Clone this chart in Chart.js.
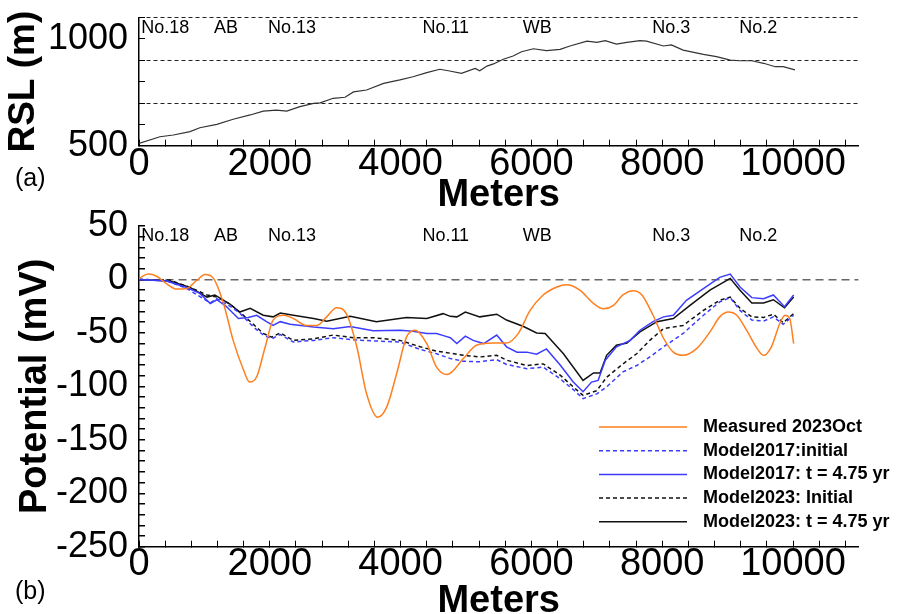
<!DOCTYPE html>
<html>
<head>
<meta charset="utf-8">
<script src="https://cdn.jsdelivr.net/npm/chart.js@4/dist/chart.umd.min.js"></script>
<style>
  body { margin: 0; background: #fff; }
  #wrap { position: relative; width: 906px; height: 614px; font-family: "Liberation Sans", Arial, sans-serif; }
  .layer { position: absolute; left: 0; top: 0; width: 906px; height: 614px; }
  .tag { position: absolute; left: 15px; font-size: 25px; line-height: 25px; color: #000; }
</style>
</head>
<body>
<div id="wrap">
  <div class="layer"><canvas id="rslChart"></canvas></div>
  <div class="layer"><canvas id="potChart"></canvas></div>
  <div class="tag" style="top:165px">(a)</div>
  <div class="tag" style="top:578px">(b)</div>
</div>
<script>
// station labels along the line (meters)
const stations = ['No.18', 'AB', 'No.13', 'No.11', 'WB', 'No.3', 'No.2'];
const stationPos = [400, 1330, 2340, 4690, 6090, 8140, 9470];

// (a) RSL profile
const rslDist = [0, 320, 525, 780, 930, 1190, 1440, 1700, 1900, 2100, 2260, 2460, 2670, 2770, 2970, 3150, 3280, 3480, 3740, 3990, 4190, 4400, 4600, 4750, 4930, 5140, 5210, 5320, 5420, 5570, 5720, 5850, 6030, 6230, 6440, 6590, 6850, 7000, 7130, 7300, 7460, 7660, 7760, 8020, 8140, 8320, 8630, 8830, 9040, 9190, 9370, 9550, 9730, 9850, 10030];
const rslVal = [511, 542, 550, 566, 584, 600, 624, 644, 662, 667, 662, 683, 698, 701, 722, 727, 752, 761, 792, 808, 823, 842, 858, 850, 839, 862, 851, 873, 883, 905, 920, 940, 954, 945, 951, 967, 990, 984, 992, 976, 984, 992, 990, 967, 972, 948, 928, 917, 901, 898, 898, 886, 870, 870, 855];

// (b) potentials
const measuredDist = [0, 140, 270, 420, 580, 730, 880, 1010, 1140, 1290, 1440, 1600, 1690, 1800, 1930, 2050, 2210, 2360, 2560, 2720, 2870, 3020, 3170, 3330, 3480, 3650, 3790, 3940, 4090, 4220, 4400, 4550, 4710, 4960, 5160, 5420, 5620, 5800, 5980, 6180, 6390, 6540, 6740, 6950, 7100, 7250, 7400, 7560, 7690, 7860, 8020, 8170, 8320, 8530, 8730, 8880, 9010, 9140, 9290, 9450, 9550, 9670, 9800, 9880, 9950, 10010];
const measuredVal = [1, 5, 3, -4, -9, -8.5, -1, 4.7, 1, -22, -57, -85, -96, -91, -63, -38, -33.5, -36.5, -43, -43, -35, -26.5, -32, -63, -107, -129, -119, -88, -54, -47.5, -60, -82, -89, -74, -61.5, -59.5, -59.5, -50.5, -29, -14.5, -7, -5, -10, -22.5, -27.5, -24.5, -14.5, -10.5, -14.5, -33.5, -55, -68, -71, -64.5, -49, -35, -30.5, -33.5, -47.5, -64.5, -71, -63, -41, -33.5, -36.5, -60];

const m17iDist = [0, 420, 730, 1090, 1190, 1390, 1540, 1750, 1900, 2030, 2160, 2360, 2670, 2970, 3280, 3580, 3990, 4300, 4550, 4760, 4960, 5210, 5470, 5620, 5930, 6180, 6440, 6640, 6790, 7000, 7150, 7400, 7610, 7810, 8020, 8320, 8630, 8880, 9040, 9190, 9370, 9550, 9700, 9850, 10010];
const m17iVal = [0, -1, -8.5, -22, -18, -25, -31.5, -44.5, -52, -55.5, -51.5, -58.5, -57, -54.5, -56.5, -57.5, -58.5, -65.5, -69.5, -74, -76.5, -77, -75, -79.5, -83.5, -82, -93, -103, -111.5, -107, -100.5, -86.5, -80.5, -72.5, -63, -50.5, -33.5, -21, -17, -29, -38, -39, -35, -42, -33.5];

const m17tDist = [0, 420, 730, 930, 1090, 1190, 1340, 1520, 1670, 1800, 1950, 2050, 2160, 2310, 2670, 2970, 3230, 3580, 3990, 4190, 4400, 4550, 4680, 4760, 4860, 4990, 5110, 5270, 5470, 5620, 5780, 5930, 6080, 6230, 6440, 6640, 6790, 6920, 7020, 7130, 7300, 7510, 7660, 7860, 8020, 8170, 8370, 8630, 8880, 9040, 9190, 9370, 9550, 9700, 9870, 10010];
const m17tVal = [0, -1.5, -7.5, -13, -22.5, -19, -25.5, -36.5, -35.5, -33.5, -39.5, -43, -39.5, -42, -44.5, -46, -44, -48, -47.5, -48.5, -50.5, -50.5, -53, -54.5, -60, -53, -57, -60, -52, -63, -68, -68, -70, -65, -80, -96, -105, -96, -94.5, -75.5, -63, -57, -47.5, -39.5, -35, -33.5, -19.5, -8.5, 2, 5, -7, -17, -18, -14.5, -25.5, -14.5];

const m23iDist = [0, 470, 780, 1040, 1190, 1390, 1540, 1750, 1900, 2030, 2160, 2360, 2670, 2970, 3280, 3580, 3990, 4300, 4550, 4760, 4960, 5210, 5470, 5620, 5930, 6180, 6440, 6640, 6790, 7000, 7150, 7400, 7610, 7810, 8020, 8320, 8630, 8880, 9040, 9190, 9370, 9550, 9700, 9850, 10010];
const m23iVal = [0, -0.5, -7.5, -14.5, -16.5, -23, -30.5, -42, -50.5, -54, -50, -57, -55.5, -52, -54.5, -54.5, -57, -63, -67, -69, -71, -72.5, -71, -75.5, -80.5, -79, -89.5, -100.5, -108.5, -104, -91.5, -79, -69.5, -57, -46, -43, -29, -19.5, -16.5, -27, -35, -35.5, -32.5, -40.5, -32];

const m23tDist = [0, 470, 780, 1040, 1160, 1390, 1540, 1700, 1900, 2050, 2160, 2360, 2670, 2870, 3230, 3630, 4090, 4400, 4650, 4760, 4860, 4990, 5210, 5470, 5620, 5880, 6080, 6210, 6490, 6790, 6950, 7050, 7150, 7300, 7460, 7660, 7920, 8170, 8430, 8730, 9040, 9190, 9370, 9550, 9700, 9870, 10010];
const m23tVal = [0, -1.5, -7.5, -16.5, -14.5, -23, -30.5, -27, -33.5, -35, -31.5, -33.5, -36.5, -39, -34.5, -39.5, -35.5, -36.5, -32, -34.5, -35, -30.5, -35, -32.5, -38, -44, -50, -50.5, -69.5, -94.5, -87.5, -87.5, -71, -61.5, -59.5, -49, -39.5, -36.5, -24, -10, 1, -10, -22, -22, -19, -26.5, -16.5];

const toXY = (xs, ys) => xs.map((x, i) => ({ x: x, y: ys[i] }));

Chart.defaults.font.family = '"Liberation Sans", Arial, sans-serif';
Chart.defaults.color = '#000';

// station names near the top of each panel
const stationPlugin = {
  id: 'stations',
  afterDatasetsDraw(chart) {
    const { ctx, chartArea, scales } = chart;
    ctx.save();
    ctx.font = '18px "Liberation Sans", Arial, sans-serif';
    ctx.fillStyle = '#000';
    ctx.textAlign = 'center';
    ctx.textBaseline = 'middle';
    stations.forEach((s, i) => {
      ctx.fillText(s, scales.x.getPixelForValue(stationPos[i]), chartArea.top + 10);
    });
    ctx.restore();
  }
};

// legend inside the lower right of panel (b)
const lineLegend = {
  id: 'lineLegend',
  afterDraw(chart) {
    const { ctx, chartArea } = chart;
    ctx.save();
    ctx.font = 'bold 18px "Liberation Sans", Arial, sans-serif';
    ctx.textBaseline = 'middle';
    chart.data.datasets.forEach((ds, i) => {
      const y = chartArea.top + 201 + i * 23.7;
      ctx.beginPath();
      ctx.setLineDash(ds.borderDash || []);
      ctx.strokeStyle = ds.borderColor;
      ctx.lineWidth = ds.borderWidth;
      ctx.moveTo(599, y);
      ctx.lineTo(687, y);
      ctx.stroke();
      ctx.fillStyle = '#000';
      ctx.fillText(ds.label, 703, y);
    });
    ctx.restore();
  }
};

function xAxis(height, pad, titleLh) {
  return {
    type: 'linear', min: 0, max: 11000,
    afterFit: s => { s.height = height; },
    border: { color: '#000', width: 1.5 },
    grid: { drawOnChartArea: false, tickLength: -6, tickColor: '#000', tickWidth: 1 },
    ticks: {
      stepSize: 400, autoSkip: false, includeBounds: false, minRotation: 0, maxRotation: 0,
      padding: pad, font: { size: 38, lineHeight: 1 },
      callback: v => (v % 2000 === 0 ? String(v) : '')
    },
    title: { display: true, text: 'Meters', font: { size: 38, weight: 'bold', lineHeight: titleLh }, padding: 0 }
  };
}

new Chart(document.getElementById('rslChart'), {
  type: 'line',
  data: {
    datasets: [{
      label: 'RSL',
      data: toXY(rslDist, rslVal),
      borderColor: '#333',
      borderWidth: 1.2,
      pointRadius: 0,
      tension: 0
    }]
  },
  options: {
    responsive: true,
    maintainAspectRatio: false,
    animation: false,
    layout: { padding: { top: 17.6, left: 0, right: 47.6, bottom: 403 } },
    plugins: { legend: { display: false }, tooltip: { enabled: false } },
    scales: {
      x: xAxis(65.3, 6, 0.8),
      y: {
        min: 500, max: 1100,
        afterFit: s => { s.width = 139; },
        border: { color: '#000', width: 1.5, dash: [4, 3] },
        grid: {
          color: c => ([700, 900, 1100].includes(c.tick.value) ? '#222' : 'rgba(0,0,0,0)'),
          lineWidth: 1, tickLength: -6, tickColor: '#000'
        },
        ticks: {
          stepSize: 100, autoSkip: false, padding: 17, font: { size: 36, lineHeight: 0.02 },
          callback: v => (v === 500 || v === 1000 ? String(v) : '')
        },
        title: { display: true, text: 'RSL (m)', font: { size: 37, weight: 'bold', lineHeight: 1 }, padding: { top: 5, bottom: 0 } }
      }
    }
  },
  plugins: [stationPlugin]
});

new Chart(document.getElementById('potChart'), {
  type: 'line',
  data: {
    datasets: [
      { label: 'Measured 2023Oct', data: toXY(measuredDist, measuredVal), borderColor: '#ff7f1e', borderWidth: 1.5, pointRadius: 0, cubicInterpolationMode: 'monotone' },
      { label: 'Model2017:initial', data: toXY(m17iDist, m17iVal), borderColor: '#3c3cff', borderWidth: 1.5, borderDash: [4, 3], pointRadius: 0 },
      { label: 'Model2017: t = 4.75 yr', data: toXY(m17tDist, m17tVal), borderColor: '#3c3cff', borderWidth: 1.5, pointRadius: 0 },
      { label: 'Model2023: Initial', data: toXY(m23iDist, m23iVal), borderColor: '#111', borderWidth: 1.5, borderDash: [4, 3], pointRadius: 0 },
      { label: 'Model2023: t = 4.75 yr', data: toXY(m23tDist, m23tVal), borderColor: '#111', borderWidth: 1.5, pointRadius: 0 }
    ]
  },
  options: {
    responsive: true,
    maintainAspectRatio: false,
    animation: false,
    layout: { padding: { top: 226, left: 0, right: 47.6, bottom: 0.8 } },
    plugins: { legend: { display: false }, tooltip: { enabled: false } },
    scales: {
      x: xAxis(66.5, 5, 0.6),
      y: {
        min: -250, max: 50,
        afterFit: s => { s.width = 139; },
        border: { color: '#000', width: 1.5, dash: [8, 5] },
        grid: {
          color: c => (c.tick.value === 0 ? '#666' : 'rgba(0,0,0,0)'),
          lineWidth: 1.5, tickLength: -6, tickColor: '#000'
        },
        ticks: {
          stepSize: 10, autoSkip: false, padding: 17, font: { size: 36, lineHeight: 0.8 },
          callback: v => (v % 50 === 0 ? String(v) : '')
        },
        title: { display: true, text: 'Potential (mV)', font: { size: 38, weight: 'bold', lineHeight: 1 }, padding: { top: 17, bottom: 0 } }
      }
    }
  },
  plugins: [stationPlugin, lineLegend]
});
</script>
</body>
</html>
